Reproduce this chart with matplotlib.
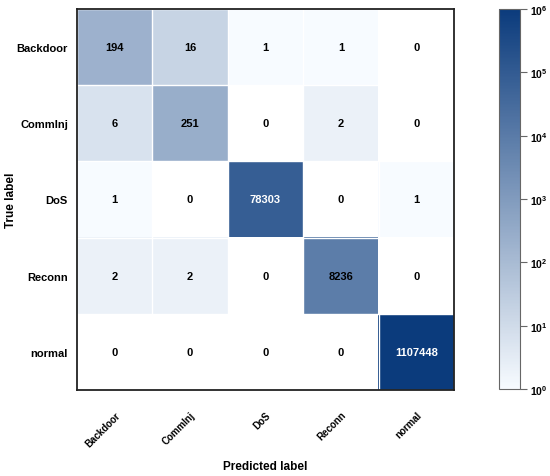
import numpy as np
import matplotlib
matplotlib.use('Agg')
import matplotlib.pyplot as plt
from matplotlib.colors import LogNorm, LinearSegmentedColormap

plt.rcParams['font.family'] = ['Liberation Sans', 'DejaVu Sans']
plt.rcParams['font.weight'] = 'bold'

classes = ['Backdoor', 'CommInj', 'DoS', 'Reconn', 'normal']
cm = np.array([
    [194, 16, 1, 1, 0],
    [6, 251, 0, 2, 0],
    [1, 0, 78303, 0, 1],
    [2, 2, 0, 8236, 0],
    [0, 0, 0, 0, 1107448],
])

cmap = LinearSegmentedColormap.from_list('wb', ['#f7fbff', '#0b3b7c'])
masked = np.ma.masked_where(cm == 0, cm)

fig = plt.figure(figsize=(5.5, 4.77), dpi=100)
ax = fig.add_axes([77/550, 1-391/477, 377/550, 381/477])
cax = fig.add_axes([499/550, 1-390/477, 21/550, 380/477])

im = ax.imshow(masked, cmap=cmap, norm=LogNorm(vmin=1, vmax=1e6), aspect='auto')

n = len(classes)
ax.set_xticks(np.arange(n))
ax.set_yticks(np.arange(n))
ax.set_xticklabels(classes, rotation=45, ha='right', rotation_mode='anchor', fontsize=7)
ax.set_yticklabels(classes, fontsize=8)
ax.tick_params(axis='y', length=0, pad=6.5)
ax.tick_params(axis='x', length=0, pad=14)
ax.set_xticks(np.arange(n+1)-.5, minor=True)
ax.set_yticks(np.arange(n+1)-.5, minor=True)
ax.grid(which='minor', color='white', linewidth=1)
ax.tick_params(which='minor', length=0)
for s in ax.spines.values():
    s.set_linewidth(1.3)
    s.set_color('#222222')

for i in range(n):
    for j in range(n):
        v = cm[i, j]
        col = 'white' if v > 5e4 else 'black'
        ax.text(j, i, str(v), ha='center', va='center', color=col, fontsize=8, fontweight='bold')

ax.set_ylabel('True label', fontsize=8.5, fontweight='bold')
ax.set_xlabel('Predicted label', fontsize=8.5, fontweight='bold')
ax.yaxis.set_label_coords(-0.158, 0.5)
ax.xaxis.set_label_coords(0.5, -0.185)

cb = fig.colorbar(im, cax=cax)
cb.outline.set_edgecolor('#666666')
cb.ax.tick_params(labelsize=7.5, length=5, color='#666666', pad=2)
cb.ax.minorticks_off()

fig.savefig('out.png', dpi=100)
